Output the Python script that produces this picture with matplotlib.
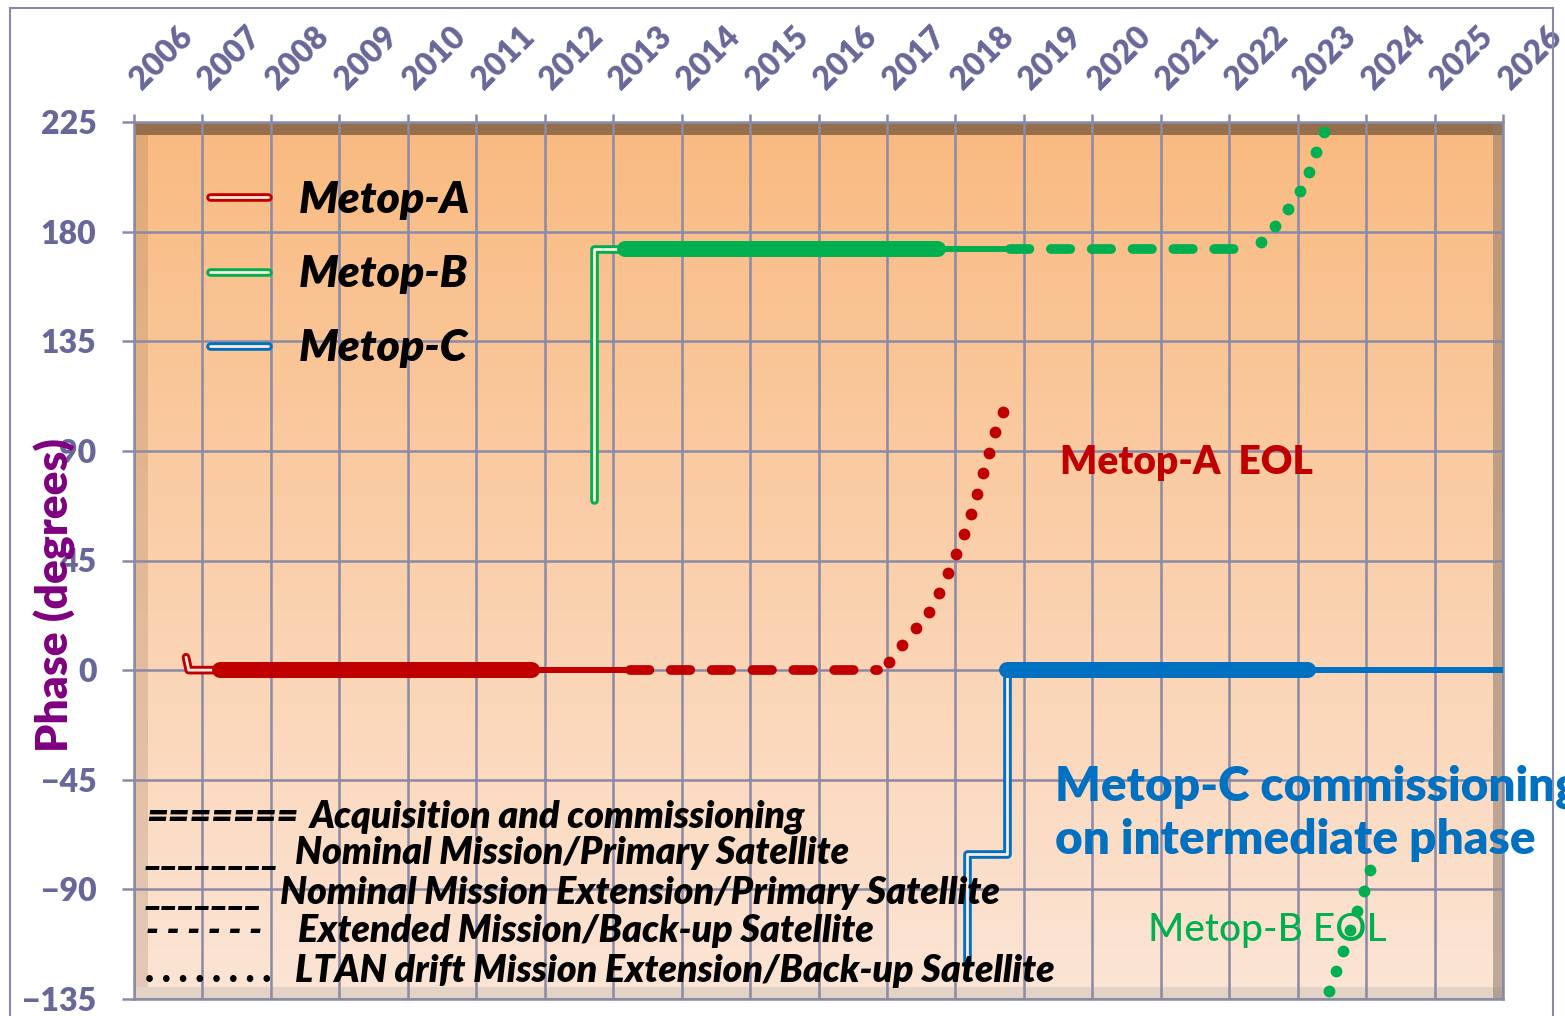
"""
Metop-A/B/C orbital phase plan (phase vs. year)
"""

import matplotlib.pyplot as plt
import matplotlib.patheffects as pe
import matplotlib.transforms as mtrans
from matplotlib.lines import Line2D
from matplotlib.patches import Rectangle
import numpy as np

#---------------------------------------------------------------------------------------------------
# Data
#---------------------------------------------------------------------------------------------------

years = np.arange(2006, 2027)
phase_ticks = np.arange(-135, 226, 45)

# Metop-A
a_acq_x = [2006.76, 2006.80, 2007.26]
a_acq_y = [5.3, 0.0, 0.0]
a_nom_x = [2007.26, 2011.81]
a_nom_y = [0.0, 0.0]
a_ext_x = [2011.81, 2013.25]
a_ext_y = [0.0, 0.0]
a_back_x = [2013.25, 2016.87]
a_back_y = [0.0, 0.0]
a_drift_x = [2017.03, 2017.22, 2017.42, 2017.61, 2017.76, 2017.89, 2018.01, 2018.13, 2018.23,
             2018.32, 2018.40, 2018.49, 2018.58, 2018.70]
a_drift_y = [3.3, 10.3, 17.2, 23.8, 31.6, 39.8, 47.6, 55.8, 64.1, 72.3, 80.9, 89.1, 97.7, 105.9]

# Metop-B
b_acq_x = [2012.72, 2012.72, 2013.17]
b_acq_y = [70.0, 173.0, 173.0]
b_nom_x = [2013.17, 2017.75]
b_nom_y = [173.0, 173.0]
b_ext_x = [2017.75, 2018.80]
b_ext_y = [173.0, 173.0]
b_back_x = [2018.80, 2022.23]
b_back_y = [173.0, 173.0]
b_drift_x = [2022.46, 2022.67, 2022.86, 2023.03, 2023.17, 2023.27, 2023.39,
             2023.46, 2023.56, 2023.66, 2023.76, 2023.87, 2023.97, 2024.06]
b_drift_y = [175.7, 182.3, 189.3, 196.7, 204.5, 212.7, 220.9,
             -131.8, -123.6, -115.4, -106.7, -98.9, -90.7, -82.1]

# Metop-C
c_acq_x = [2018.17, 2018.17, 2018.75, 2018.75]
c_acq_y = [-120.5, -75.5, -75.5, 0.0]
c_nom_x = [2018.75, 2023.15]
c_nom_y = [0.0, 0.0]
c_ext_x = [2023.15, 2026.0]
c_ext_y = [0.0, 0.0]

col_a = '#C00000'
col_b = '#00B050'
col_c = '#0070C0'

legend_rows = [('=======', 'Acquisition and commissioning', 817, 310),
               ('________', 'Nominal Mission/Primary Satellite', 853, 295),
               ('_______', 'Nominal Mission Extension/Primary Satellite', 893, 280),
               ('- - - - - -', 'Extended Mission/Back-up Satellite', 931, 298),
               ('. . . . . . . .', 'LTAN drift Mission Extension/Back-up Satellite', 971, 295)]

#---------------------------------------------------------------------------------------------------
# Figure
#---------------------------------------------------------------------------------------------------

W, H = 1565, 1016
plt.rcParams['font.family'] = ['Lato', 'DejaVu Sans']
plt.rcParams['font.weight'] = 'heavy'

def fx(x):
    return x / W

def fy(y):
    return 1 - y / H

fig = plt.figure(figsize=(W / 100, H / 100), dpi=100)
ax = fig.add_axes([fx(134), fy(999), fx(1503) - fx(134), (999 - 122) / H])

grid_col = '#8A8AA6'
tick_col = '#676799'

# background gradient and 3D walls
grad = np.linspace(0, 1, 256).reshape(-1, 1, 1)
top = np.array([249, 186, 128]) / 255
bot = np.array([252, 229, 214]) / 255
ax.imshow(top + (bot - top) * grad, extent=[0, 1, 0, 1], transform=ax.transAxes,
          aspect='auto', zorder=0)
ax.axvspan(2006, 2006.2, color='#8E6A4A', alpha=0.22, lw=0, zorder=0.3)
ax.axhspan(219.5, 225, color='#956E4C', lw=0, zorder=0.3)
ax.axhspan(-135, -130.2, color='#E3D2C6', lw=0, zorder=0.3)
ax.axvspan(2025.86, 2026, color='#8C786C', alpha=0.55, lw=0, zorder=0.3)

ax.set_xlim(2006, 2026)
ax.set_ylim(-135, 225)
ax.set_xticks(years)
ax.set_yticks(phase_ticks)
ax.grid(True, color=grid_col, lw=1.8)
for s in ax.spines.values():
    s.set_color(grid_col)
    s.set_linewidth(1.8)

ax.xaxis.tick_top()
ax.tick_params(axis='x', length=6, width=1.8, color=grid_col, pad=14, labelsize=23,
               labelcolor=tick_col)
ax.tick_params(axis='y', length=9, width=1.8, color=grid_col, pad=18, labelsize=23,
               labelcolor=tick_col)
shift = mtrans.ScaledTranslation(8 / 72, 0, fig.dpi_scale_trans)
for lab in ax.get_xticklabels():
    lab.set_rotation(45)
    lab.set_ha('left')
    lab.set_va('bottom')
    lab.set_rotation_mode('anchor')
    lab.set_transform(lab.get_transform() + shift)

light = '#FDEBDD'

def double_line(x, y, c):
    ax.plot(x, y, color=light, lw=2.0, solid_joinstyle='round', solid_capstyle='round',
            zorder=3, path_effects=[pe.Stroke(linewidth=6.2, foreground=c,
                                              capstyle='round', joinstyle='round'),
                                    pe.Normal()])

for c, acq, nom, ext in [(col_a, (a_acq_x, a_acq_y), (a_nom_x, a_nom_y), (a_ext_x, a_ext_y)),
                         (col_b, (b_acq_x, b_acq_y), (b_nom_x, b_nom_y), (b_ext_x, b_ext_y)),
                         (col_c, (c_acq_x, c_acq_y), (c_nom_x, c_nom_y), (c_ext_x, c_ext_y))]:
    double_line(acq[0], acq[1], c)
    ax.plot(nom[0], nom[1], color=c, lw=11.5, solid_capstyle='round', zorder=4)
    ax.plot(ext[0], ext[1], color=c, lw=4.3, solid_capstyle='butt', zorder=3)

for c, bx, by in [(col_a, a_back_x, a_back_y), (col_b, b_back_x, b_back_y)]:
    ax.plot(bx, by, color=c, lw=7, dashes=(2.0, 2.2), dash_capstyle='round', zorder=3)

for c, dx, dy in [(col_a, a_drift_x, a_drift_y), (col_b, b_drift_x, b_drift_y)]:
    ax.plot(dx, dy, ls='none', marker='o', ms=8.5, color=c, mec='none', zorder=4,
            clip_on=False)

# series legend
handles = [Line2D([], [], color=light, lw=2.0, solid_capstyle='round',
                  path_effects=[pe.Stroke(linewidth=6.2, foreground=c, capstyle='round'),
                                pe.Normal()])
           for c in (col_a, col_b, col_c)]
leg = ax.legend(handles, ['Metop-A', 'Metop-B', 'Metop-C'], loc='upper left',
                bbox_to_anchor=(fx(210), fy(180)), bbox_transform=fig.transFigure,
                frameon=False, borderpad=0, borderaxespad=0, handlelength=1.3,
                handletextpad=0.7, labelspacing=0.77,
                prop={'size': 32, 'weight': 'heavy', 'style': 'italic'})

# annotations
ax.text(2019.53, 85.4, 'Metop-A  EOL', color=col_a, fontsize=28,
        ha='left', va='center', zorder=5)
ax.text(2019.46, -48.0, 'Metop-C commissioning', color=col_c, fontsize=34.4,
        ha='left', va='center', zorder=5, clip_on=False)
ax.text(2019.46, -69.8, 'on intermediate phase', color=col_c, fontsize=34.4,
        ha='left', va='center', zorder=5, clip_on=False)
ax.text(2020.81, -106.7, 'Metop-B EOL', color=col_b, fontsize=28, fontweight='medium',
        ha='left', va='center', zorder=5)

# line style key
for sym, desc, y, x in legend_rows:
    fig.text(fx(146), fy(y), sym, fontsize=27, fontstyle='italic',
             ha='left', va='center', zorder=6)
    fig.text(fx(x), fy(y), desc, fontsize=27, fontstyle='italic',
             ha='left', va='center', zorder=6)

fig.text(fx(55), fy(595), 'Phase (degrees)', color='#800080', fontsize=32,
         rotation=90, ha='center', va='center', zorder=6)

fig.add_artist(Rectangle((fx(10), -0.02), fx(1553) - fx(10), 1.02 - 8 / H, fill=False,
                         edgecolor=grid_col, lw=1.5, transform=fig.transFigure))

plt.savefig('out.png', dpi=100)
plt.close()
